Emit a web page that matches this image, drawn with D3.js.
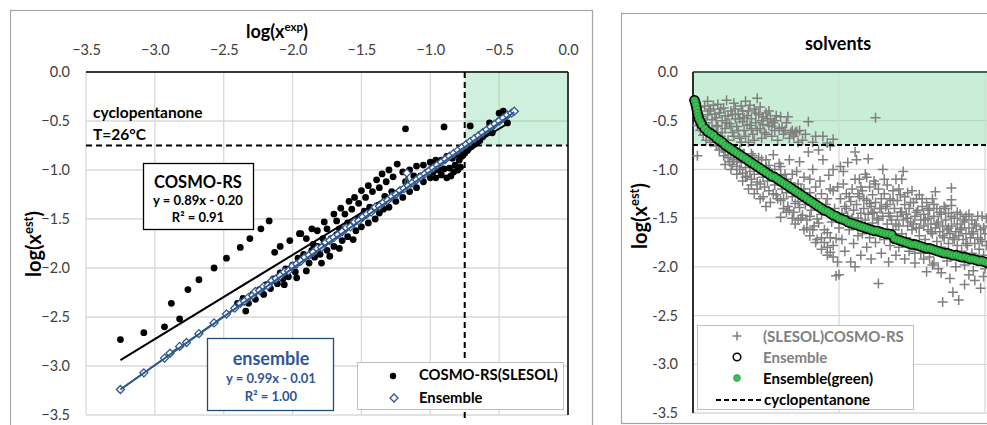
<!DOCTYPE html>
<html><head><meta charset="utf-8">
<script src="https://cdn.jsdelivr.net/npm/d3@7"></script>
<style>
html,body{margin:0;padding:0;background:#fff;}
svg{display:block;font-family:Lato,"Open Sans",sans-serif;}
</style></head>
<body>
<svg id="c" width="987" height="425"></svg>
<script>
// ---------- DATA ----------
const leftTicks = [-3.5,-3.0,-2.5,-2.0,-1.5,-1.0,-0.5,0.0];
const yTicks = [-3.5,-3.0,-2.5,-2.0,-1.5,-1.0,-0.5,0.0];
const threshold = -0.75;

// COSMO-RS(SLESOL): [log x_exp, log x_est]
const cosmoPts = [
[-3.25,-2.73],[-3.08,-2.66],[-2.93,-2.60],[-2.82,-2.52],[-2.88,-2.36],[-2.76,-2.22],[-2.68,-2.12],[-2.57,-2.00],[-2.48,-1.90],[-2.38,-1.79],[-2.31,-1.70],[-2.23,-1.60],[-2.17,-1.52],[-2.13,-1.84],[-2.09,-1.78],[-2.02,-1.72],[-1.95,-1.65],[-2.34,-2.44],
[-2.40,-2.36],[-2.36,-2.31],[-2.32,-2.36],[-2.29,-2.27],[-2.27,-2.32],[-2.24,-2.22],[-2.21,-2.27],[-2.19,-2.17],[-2.16,-2.21],[-2.14,-2.11],[-2.11,-2.16],[-2.09,-2.05],[-2.07,-2.11],[-2.05,-2.01],[-2.03,-2.09],[-2.00,-1.97],[-1.98,-2.04],[-2.06,-2.17],[-1.97,-2.10],[-1.90,-2.03],[-1.79,-1.95],[-1.73,-1.88],[-1.66,-1.80],[-1.56,-1.71],[-1.37,-1.44],
[-1.94,-1.92],[-1.92,-1.86],[-1.88,-1.95],[-1.86,-1.82],[-1.84,-1.89],[-1.82,-1.78],[-1.80,-1.86],[-1.77,-1.74],[-1.75,-1.82],[-1.72,-1.70],[-1.70,-1.78],[-1.68,-1.66],[-1.64,-1.72],[-1.62,-1.60],[-1.60,-1.68],[-1.58,-1.56],[-1.54,-1.62],[-1.52,-1.50],[-1.50,-1.58],[-1.47,-1.46],[-1.45,-1.54],[-1.42,-1.40],[-1.40,-1.50],[-1.38,-1.36],[-1.34,-1.40],[-1.32,-1.30],[-1.30,-1.38],[-1.27,-1.26],[-1.25,-1.32],[-1.22,-1.21],[-1.20,-1.28],[-1.17,-1.16],[-1.15,-1.22],[-1.12,-1.12],[-1.10,-1.18],[-1.07,-1.06],[-1.05,-1.12],[-1.02,-1.02],[-1.00,-1.08],
[-1.96,-1.90],[-1.78,-1.70],[-1.60,-1.54],[-1.44,-1.38],[-1.28,-1.22],[-1.12,-1.06],[-0.98,-0.96],[-1.85,-1.76],[-1.66,-1.60],[-1.48,-1.42],[-1.33,-1.27],[-1.18,-1.12],
[-1.94,-1.65],[-1.90,-1.70],[-1.86,-1.60],[-1.82,-1.62],[-1.77,-1.53],[-1.75,-1.60],[-1.70,-1.45],[-1.68,-1.52],[-1.65,-1.39],[-1.62,-1.45],[-1.59,-1.32],[-1.57,-1.40],[-1.55,-1.28],[-1.52,-1.34],[-1.50,-1.21],[-1.47,-1.28],[-1.45,-1.16],[-1.42,-1.22],[-1.39,-1.10],[-1.37,-1.18],[-1.35,-1.04],[-1.32,-1.12],[-1.30,-1.00],[-1.27,-1.07],[-1.24,-0.94],[-1.20,-1.02],[-1.15,-1.00],[-1.10,-0.96],[-1.05,-0.95],[-1.00,-0.92],[-0.96,-0.90],[-1.18,-0.58],[-0.90,-0.56],[-0.71,-0.55],
[-0.98,-1.02],[-0.96,-1.08],[-0.94,-1.00],[-0.92,-1.05],[-0.90,-0.99],[-0.88,-1.08],[-0.86,-0.98],[-0.85,-1.06],[-0.83,-1.02],[-0.82,-0.95],[-0.80,-1.00],[-0.79,-0.90],[-0.78,-0.97],[-0.77,-0.86],[-0.75,-0.83],[-0.73,-0.80],[-0.72,-0.78],[-0.70,-0.76],[-0.68,-0.74],[-0.66,-0.72],[-0.64,-0.70],[-0.62,-0.66],[-0.60,-0.62],[-0.58,-0.60],[-0.55,-0.55],[-0.50,-0.50],[-0.45,-0.45],[-0.50,-0.42],[-0.44,-0.52],[-0.57,-0.52],[-0.47,-0.40],[-0.55,-0.62],[-0.84,-0.88],[-0.81,-0.84],[-0.76,-0.78],[-0.95,-0.94],[-0.92,-0.90],[-0.88,-0.86]
];

// Ensemble: [log x_exp, log x_est]
const ensemblePts = [
[-3.25,-3.24],[-3.08,-3.07],[-2.93,-2.92],[-2.89,-2.87],[-2.82,-2.80],[-2.77,-2.76],[-2.68,-2.67],[-2.57,-2.56],[-2.48,-2.47],[-2.42,-2.41],[-2.38,-2.36],[-2.35,-2.34],[-2.32,-2.30],[-2.29,-2.28],[-2.27,-2.24],[-2.24,-2.23],[-2.21,-2.19],[-2.18,-2.18],[-2.15,-2.13],[-2.12,-2.11],[-2.09,-2.08],[-2.06,-2.04],[-2.03,-2.03],[-2.00,-1.98],[-1.97,-1.96],[-1.94,-1.93],[-1.91,-1.89],[-1.88,-1.87],[-1.85,-1.84],[-1.82,-1.80],[-1.79,-1.79],[-1.76,-1.74],[-1.73,-1.72],[-1.70,-1.69],[-1.67,-1.66],[-1.64,-1.63],[-1.61,-1.59],[-1.58,-1.58],[-1.55,-1.53],[-1.52,-1.52],[-1.49,-1.48],[-1.46,-1.45],[-1.43,-1.43],[-1.40,-1.38],[-1.37,-1.37],[-1.34,-1.33],[-1.31,-1.31],[-1.28,-1.27],[-1.25,-1.25],[-1.22,-1.21],[-1.19,-1.19],[-1.17,-1.03],[-1.16,-1.16],[-1.13,-1.13],[-1.10,-1.10],[-1.07,-1.07],[-1.04,-1.04],[-1.01,-1.01],[-0.98,-0.98],[-0.95,-0.95],[-0.92,-0.92],[-0.89,-0.89],[-0.86,-0.86],[-0.83,-0.83],[-0.80,-0.80],[-0.77,-0.77],[-0.74,-0.74],[-0.71,-0.71],[-0.68,-0.68],[-0.65,-0.65],[-0.62,-0.62],[-0.59,-0.59],[-0.56,-0.56],[-0.53,-0.53],[-0.50,-0.50],[-0.47,-0.47],[-0.44,-0.44],[-0.41,-0.42],[-0.39,-0.40]
];

const cosmoFit = [[-3.25,-2.94],[-0.42,-0.51]];
const ensembleFit = [[-3.25,-3.24],[-0.39,-0.41]];

// Right panel: solvents (index, log x_est)
const solventGridX = [0,100,200,300];
const ensembleCurve = [
[1,-0.29],[1.5,-0.31],[2,-0.34],[2.5,-0.38],[3,-0.42],[3.5,-0.45],[4,-0.48],[5,-0.51],[6,-0.54],[8,-0.58],[10,-0.61],[12,-0.63],[14,-0.65],[16,-0.68],[18,-0.70],[20,-0.72],[22,-0.75],[24,-0.77],[26,-0.79],[28,-0.81],[30,-0.83],[32,-0.85],[34,-0.87],[36,-0.89],[38,-0.91],[40,-0.93],[42,-0.95],[44,-0.97],[46,-0.99],[48,-1.01],[50,-1.03],[52,-1.05],[54,-1.07],[56,-1.08],[58,-1.10],[60,-1.12],[62,-1.14],[64,-1.16],[66,-1.18],[68,-1.20],[70,-1.22],[72,-1.24],[74,-1.26],[76,-1.28],[78,-1.30],[80,-1.32],[82,-1.34],[84,-1.36],[86,-1.38],[88,-1.40],[90,-1.42],[92,-1.43],[94,-1.45],[96,-1.47],[98,-1.48],[100,-1.50],[102,-1.51],[104,-1.52],[106,-1.54],[108,-1.55],[110,-1.56],[112,-1.57],[114,-1.58],[116,-1.59],[118,-1.60],[120,-1.61],[122,-1.62],[124,-1.63],[126,-1.63],[128,-1.64],[130,-1.65],[132,-1.66],[134,-1.66],[136,-1.67],[138,-1.71],[140,-1.72],[142,-1.73],[144,-1.74],[146,-1.75],[148,-1.76],[150,-1.77],[152,-1.77],[154,-1.78],[156,-1.79],[158,-1.80],[160,-1.81],[162,-1.81],[164,-1.82],[166,-1.83],[168,-1.84],[170,-1.85],[172,-1.86],[174,-1.86],[176,-1.87],[178,-1.88],[180,-1.88],[182,-1.89],[184,-1.90],[186,-1.90],[188,-1.91],[190,-1.92],[192,-1.92],[194,-1.93],[196,-1.94],[198,-1.94],[200,-1.95],[202,-1.96]
];

const slesolPts = [
[4,-0.40],[6,-0.46],[8,-0.35],[9,-0.52],[10,-0.44],[11,-0.58],[12,-0.38],[13,-0.49],[14,-0.62],[15,-0.43],[16,-0.55],[17,-0.33],[18,-0.42],[19,-0.66],[20,-0.50],[21,-0.37],[22,-0.58],[23,-0.29],[24,-0.45],[25,-0.53],[26,-0.40],[27,-0.62],[28,-0.32],[29,-0.48],[30,-0.56],[31,-0.43],[32,-0.68],[33,-0.35],[34,-0.51],[35,-0.60],[36,-0.30],[37,-0.45],[38,-0.40],[39,-0.55],[40,-0.48],[41,-0.64],[42,-0.38],[43,-0.52],[44,-0.27],[45,-0.44],[46,-0.58],[47,-0.50],[48,-0.46],[49,-0.62],[50,-0.42],[52,-0.55],[53,-0.48],[54,-0.66],[55,-0.52],[56,-0.60],[57,-0.45],[58,-0.70],[60,-0.46],[61,-0.57],[62,-0.64],[64,-0.52],[65,-0.46],[66,-0.68],[68,-0.60],[70,-0.62],[71,-0.61],[72,-0.72],[73,-0.60],[79,-0.51],[84,-0.66],[89,-0.66],[96,-0.69],[125,-0.47],
[5,-0.36],[7,-0.48],[10,-0.30],[11,-0.40],[13,-0.60],[14,-0.34],[16,-0.47],[17,-0.56],[19,-0.38],[20,-0.62],[22,-0.45],[23,-0.52],[24,-0.70],[26,-0.56],[27,-0.44],[28,-0.66],[29,-0.38],[31,-0.60],[32,-0.48],[33,-0.72],[34,-0.40],[35,-0.47],[36,-0.66],[37,-0.54],[38,-0.72],[39,-0.34],[40,-0.58],[42,-0.70],[43,-0.42],[44,-0.60],[46,-0.36],[47,-0.68],[48,-0.54],[50,-0.64],[51,-0.48],[52,-0.40],[54,-0.56],[56,-0.50],[59,-0.58],[63,-0.60],[67,-0.62],[69,-0.66],[75,-0.70],[77,-0.64],[82,-0.72],[92,-0.73],
[3,-0.55],[5,-0.60],[7,-0.65],[9,-0.70],[12,-0.72],[15,-0.68],[18,-0.74],[8,-0.58],[3,-0.86],
[16,-0.76],[18,-0.80],[20,-0.78],[21,-0.86],[22,-0.82],[24,-0.88],[25,-0.92],[26,-0.85],[27,-0.95],[28,-0.90],[29,-0.80],[30,-0.97],[31,-0.88],[32,-1.00],[33,-0.93],[34,-1.04],[35,-0.84],[36,-0.98],[37,-1.07],[38,-0.92],[39,-1.02],[40,-1.10],[41,-0.86],[42,-1.05],[43,-0.96],[44,-1.13],[45,-1.00],[46,-1.15],[47,-0.90],[48,-1.08],[49,-1.18],[50,-0.98],[51,-1.12],[52,-1.22],[53,-1.34],[54,-1.04],[55,-0.85],[56,-1.16],[57,-1.26],[58,-1.10],[59,-0.94],[60,-0.97],[60,-1.49],[61,-1.20],[62,-1.30],[63,-1.05],[64,-1.24],[65,-1.38],[66,-0.90],[67,-1.14],[68,-1.28],[69,-1.44],[70,-1.56],[71,-1.02],[72,-1.33],[73,-0.92],[73,-1.39],[74,-1.20],[75,-1.47],[76,-1.08],[77,-1.36],[78,-1.52],[79,-0.82],[80,-1.24],[81,-1.42],[82,-1.00],[83,-1.58],[84,-1.30],[85,-1.51],[86,-0.80],[87,-1.12],[88,-1.46],[89,-0.90],[90,-1.62],[91,-1.36],[92,-1.65],[93,-1.06],[94,-0.76],[94,-1.20],[95,-1.54],[96,-1.00],[96,-1.78],[97,-1.40],[98,-1.71],[98,-2.09],[99,-1.18],[100,-1.60],[100,-2.08],[101,-0.97],
[22,-0.95],[26,-1.00],[30,-1.05],[34,-1.12],[38,-1.20],[42,-1.25],[46,-1.30],[50,-1.38],[36,-1.08],[44,-1.20],[55,-1.25],[58,-1.30],[62,-1.40],[66,-1.42],[70,-1.35],[74,-1.50],[78,-1.60],[82,-1.62],[86,-1.55],[88,-1.70],[90,-1.75],[92,-1.80],[94,-1.85],[96,-1.90],[99,-1.95],[85,-1.72],[80,-1.48],
[32,-0.80],[40,-0.84],[45,-0.88],[50,-0.90],[52,-0.96],[56,-1.00],[60,-1.06],[64,-1.10],[68,-1.05],[72,-1.15],[76,-1.20],[80,-1.10],[84,-1.18],[88,-1.25],[92,-1.30],[96,-1.22],[60,-1.32],[64,-1.44],[68,-1.50],[72,-1.52],[76,-1.62],[80,-1.68],[84,-1.75],[88,-1.82],[92,-1.88],[94,-1.70],[48,-1.28],[40,-1.16],[30,-0.92],[26,-0.80],
[101,-1.30],[102,-1.45],[102,-1.72],[103,-1.15],[104,-1.38],[104,-1.84],[105,-1.25],[106,-0.93],[106,-1.48],[107,-1.62],[108,-1.33],[108,-1.95],[109,-1.20],[110,-1.42],[110,-1.76],[111,-0.82],[111,-2.00],[112,-0.90],[112,-1.36],[113,-1.50],[113,-1.68],[114,-1.10],[114,-1.28],[115,-1.45],[115,-1.88],[116,-1.22],[116,-1.66],[117,-1.40],[118,-1.05],[118,-1.52],[119,-1.32],[119,-1.80],[120,-0.89],[120,-1.46],[121,-1.18],[121,-1.70],[122,-1.38],[122,-1.92],[123,-1.26],[123,-1.55],[124,-1.12],[124,-1.44],[125,-1.34],[125,-1.75],[126,-1.50],[127,-2.17],[127,-1.20],[128,-1.40],[128,-1.68],[129,-1.30],[129,-1.86],[130,-1.00],[130,-1.48],[131,-1.25],[131,-1.72],[132,-1.38],[133,-1.56],[133,-1.16],[134,-1.45],[134,-1.95],[135,-1.30],[135,-1.78],[136,-1.52],[137,-1.22],[137,-1.62],[138,-1.40],[139,-1.88],[139,-1.10],[140,-1.48],[140,-1.32],[141,-1.58],[141,-1.80],[142,-1.26],[142,-1.44],[143,-1.10],[143,-1.66],[144,-1.02],[144,-1.52],[145,-1.36],[145,-1.92],[146,-1.46],[146,-1.70],[147,-1.24],[147,-1.58],[148,-1.40],[148,-1.84],[149,-1.54],[150,-1.22],[150,-1.62],[151,-1.34],[151,-1.76],[152,-1.48],[152,-1.96],[153,-1.30],[153,-1.60],[154,-1.42],[155,-1.26],[155,-1.68],[156,-1.52],[156,-1.86],[157,-1.38],[158,-1.58],[158,-1.46],[159,-1.72],[160,-2.05],[160,-1.34],[161,-1.62],[161,-1.50],[162,-1.90],[162,-1.42],[163,-1.56],[164,-1.66],[164,-1.30],[165,-1.48],[165,-1.96],[166,-1.23],[166,-1.60],[167,-1.74],[167,-1.40],[168,-1.54],[168,-2.02],[169,-1.64],[170,-1.46],[170,-1.80],[171,-2.36],[171,-1.58],[172,-1.38],[172,-1.70],[173,-1.52],[174,-1.62],[174,-1.94],[175,-1.45],[175,-1.76],[176,-1.66],[177,-1.19],[177,-1.31],[177,-1.37],[177,-1.58],[178,-2.26],[178,-1.70],[179,-1.50],[180,-1.64],[180,-2.00],[181,-1.56],[181,-1.78],[182,-2.34],[182,-1.68],[183,-1.46],[184,-1.60],[184,-1.84],[185,-1.72],[186,-1.54],[186,-1.98],[187,-1.48],[187,-1.66],[188,-1.78],[189,-1.60],[189,-2.08],[190,-1.70],[191,-1.52],[191,-1.86],[192,-1.64],[193,-1.76],[193,-2.14],[194,-1.58],[195,-1.70],[195,-1.92],[196,-1.82],[197,-2.22],[197,-1.62],[198,-1.48],[198,-1.74],[199,-1.88],[200,-1.66],[200,-2.02],[201,-1.78],[202,-1.58],
[103,-1.02],[105,-1.40],[107,-1.28],[109,-1.50],[111,-1.10],[113,-1.25],[115,-1.18],[117,-1.30],[119,-1.08],[121,-1.35],[123,-1.45],[125,-1.15],[127,-1.52],[129,-1.40],[131,-1.10],[133,-1.36],[135,-1.48],[137,-1.32],[139,-1.56],[141,-1.20],[143,-1.44],[145,-1.28],[147,-1.50],[149,-1.34],[151,-1.56],[153,-1.44],[155,-1.60],[157,-1.30],[159,-1.52],[161,-1.40],[163,-1.64],[165,-1.36],[167,-1.56],[169,-1.44],[171,-1.68],[173,-1.40],[175,-1.60],[177,-1.48],[179,-1.72],[181,-1.44],[183,-1.62],[185,-1.52],[187,-1.76],[189,-1.46],[191,-1.66],[193,-1.56],[195,-1.48],[197,-1.72],[199,-1.60],[201,-1.50],[152,-1.86],[158,-1.92],[164,-1.98],[170,-2.06],[176,-2.12],[186,-2.18],[192,-2.04],[199,-2.10]
];

// ---------- DRAW ----------
const svg = d3.select("#c");
const GRID = "#d9d9d9", GREEN_BG = "#c9eed8", BLUE = "#2f5597";
const fmtL = d3.format(".1f");
const fmtR = d => d3.format(".1f")(d).replace("\u2212","-");
const diamond = s => `M0,${-s}L${s},0L0,${s}L${-s},0Z`;
const plus = s => `M${-s},0H${s}M0,${-s}V${s}`;

svg.append("rect").attr("x",10.5).attr("y",10.5).attr("width",582).attr("height",430)
  .attr("fill","#fff").attr("stroke","#a6a6a6").attr("stroke-width",1.2);
svg.append("rect").attr("x",621.5).attr("y",13.5).attr("width",400).attr("height",410)
  .attr("fill","#fff").attr("stroke","#a6a6a6").attr("stroke-width",1.2);

// ===== LEFT PANEL =====
const xL = d3.scaleLinear().domain([-3.5,0]).range([86,568]);
const yL = d3.scaleLinear().domain([-3.5,0]).range([415,72]);
const gL = svg.append("g");

gL.selectAll(".vg").data(leftTicks).join("line")
  .attr("x1",d=>xL(d)).attr("x2",d=>xL(d)).attr("y1",yL(0)).attr("y2",yL(-3.5))
  .attr("stroke",GRID).attr("stroke-width",1.3);
gL.selectAll(".hg").data(yTicks).join("line")
  .attr("y1",d=>yL(d)).attr("y2",d=>yL(d)).attr("x1",xL(-3.5)).attr("x2",xL(0))
  .attr("stroke",GRID).attr("stroke-width",1.3);

gL.append("rect").attr("x",xL(threshold)).attr("y",yL(0))
  .attr("width",xL(0)-xL(threshold)).attr("height",yL(threshold)-yL(0))
  .attr("fill",GREEN_BG).attr("opacity",0.9);
gL.selectAll(".vg2").data([-0.5]).join("line")
  .attr("x1",d=>xL(d)).attr("x2",d=>xL(d)).attr("y1",yL(0)).attr("y2",yL(threshold))
  .attr("stroke","#b5d8c2").attr("stroke-width",1.3);
gL.selectAll(".hg2").data([-0.5]).join("line")
  .attr("y1",d=>yL(d)).attr("y2",d=>yL(d)).attr("x1",xL(threshold)).attr("x2",xL(0))
  .attr("stroke","#b5d8c2").attr("stroke-width",1.3);

const axTop = d3.axisTop(xL).tickValues(leftTicks).tickFormat(fmtL).tickSize(0).tickPadding(17);
gL.append("g").attr("transform",`translate(0,${yL(0)})`).call(axTop)
  .call(g=>g.select(".domain").remove())
  .selectAll("text").attr("font-size",14.5).attr("fill","#404040").attr("font-family","Lato,sans-serif");
const axLeft = d3.axisLeft(yL).tickValues(yTicks).tickFormat(fmtL).tickSize(0).tickPadding(16);
gL.append("g").attr("transform",`translate(${xL(-3.5)},0)`).call(axLeft)
  .call(g=>g.select(".domain").remove())
  .selectAll("text").attr("font-size",14.5).attr("fill","#404040").attr("font-family","Lato,sans-serif");

gL.append("line").attr("x1",xL(-3.5)).attr("x2",xL(0)).attr("y1",yL(0)).attr("y2",yL(0)).attr("stroke","#000").attr("stroke-width",1.5);
gL.append("line").attr("x1",xL(0)).attr("x2",xL(0)).attr("y1",yL(0)).attr("y2",yL(-3.5)).attr("stroke","#000").attr("stroke-width",1.5);

gL.append("line").attr("x1",xL(-3.5)).attr("x2",xL(0)).attr("y1",yL(threshold)).attr("y2",yL(threshold))
  .attr("stroke","#000").attr("stroke-width",2).attr("stroke-dasharray","6,4");
gL.append("line").attr("x1",xL(threshold)).attr("x2",xL(threshold)).attr("y1",yL(0)).attr("y2",yL(-3.5)+6)
  .attr("stroke","#000").attr("stroke-width",2).attr("stroke-dasharray","6,4");

gL.append("g").selectAll("circle").data(cosmoPts).join("circle")
  .attr("cx",d=>xL(d[0])).attr("cy",d=>yL(d[1])).attr("r",3.4).attr("fill","#000");
const lineL = d3.line().x(d=>xL(d[0])).y(d=>yL(d[1]));
gL.append("path").attr("d",lineL(cosmoFit)).attr("stroke","#000").attr("stroke-width",2).attr("fill","none");
gL.append("path").attr("d",lineL(ensemblePts)).attr("stroke","#2e5a86").attr("stroke-width",1.6).attr("fill","none");
gL.append("g").selectAll("path").data(ensemblePts).join("path")
  .attr("d",diamond(4)).attr("transform",d=>`translate(${xL(d[0])},${yL(d[1])})`)
  .attr("fill","#fff").attr("stroke",BLUE).attr("stroke-width",1.3);
gL.append("path").attr("d",lineL(ensembleFit)).attr("stroke","#2e5a86").attr("stroke-width",2).attr("fill","none");

const tL = gL.append("text").attr("x",277).attr("y",38).attr("text-anchor","middle")
  .attr("font-size",18).attr("font-weight","bold").attr("fill","#000");
tL.append("tspan").text("log(x");
tL.append("tspan").text("exp").attr("font-size",11.5).attr("dy",-7);
tL.append("tspan").text(")").attr("dy",7);

const yt = gL.append("text").attr("transform","translate(41,244) rotate(-90)").attr("text-anchor","middle")
  .attr("font-size",20).attr("font-weight","bold").attr("fill","#000");
yt.append("tspan").text("log(x");
yt.append("tspan").text("est").attr("font-size",13).attr("dy",-8);
yt.append("tspan").text(")").attr("dy",8);

gL.append("text").attr("x",93).attr("y",118).text("cyclopentanone").attr("font-size",15.5).attr("font-weight","bold");
gL.append("text").attr("x",93).attr("y",140).text("T=26°C").attr("font-size",15.5).attr("font-weight","bold");

gL.append("rect").attr("x",143.5).attr("y",163.5).attr("width",110).attr("height",66)
  .attr("fill","#fff").attr("stroke","#000").attr("stroke-width",1.3);
gL.append("text").attr("x",198).attr("y",188).attr("text-anchor","middle").text("COSMO-RS").attr("font-size",16.5).attr("font-weight","bold");
gL.append("text").attr("x",198).attr("y",205).attr("text-anchor","middle").text("y = 0.89x - 0.20").attr("font-size",13).attr("font-weight","bold");
gL.append("text").attr("x",198).attr("y",222).attr("text-anchor","middle").text("R² = 0.91").attr("font-size",13).attr("font-weight","bold");

gL.append("rect").attr("x",207.5).attr("y",338.5).attr("width",126).attr("height",72)
  .attr("fill","#fff").attr("stroke","#1f4e79").attr("stroke-width",1.3);
gL.append("text").attr("x",271).attr("y",365).attr("text-anchor","middle").text("ensemble").attr("font-size",18).attr("font-weight","bold").attr("fill","#2f5597");
gL.append("text").attr("x",271).attr("y",383).attr("text-anchor","middle").text("y = 0.99x - 0.01").attr("font-size",13).attr("font-weight","bold").attr("fill","#2f5597");
gL.append("text").attr("x",271).attr("y",401).attr("text-anchor","middle").text("R² = 1.00").attr("font-size",13).attr("font-weight","bold").attr("fill","#2f5597");

gL.append("rect").attr("x",357.5).attr("y",362.5).attr("width",206).attr("height",47)
  .attr("fill","#fff").attr("stroke","#bfbfbf").attr("stroke-width",1);
gL.append("circle").attr("cx",393).attr("cy",376).attr("r",3.2).attr("fill","#000");
gL.append("text").attr("x",419).attr("y",380).text("COSMO-RS(SLESOL)").attr("font-size",14.8).attr("font-weight","bold");
gL.append("path").attr("d",diamond(4)).attr("transform","translate(394,398)").attr("fill","#fff").attr("stroke",BLUE).attr("stroke-width",1.3);
gL.append("text").attr("x",419).attr("y",403).text("Ensemble").attr("font-size",14.8).attr("font-weight","bold");

// ===== RIGHT PANEL =====
const xR = d3.scaleLinear().domain([0,300]).range([693,1131]);
const yR = d3.scaleLinear().domain([-3.5,0]).range([413,72]);
const gR = svg.append("g");

gR.append("rect").attr("x",xR(0)).attr("y",yR(0)).attr("width",xR(300)-xR(0)).attr("height",yR(threshold)-yR(0))
  .attr("fill",GREEN_BG);
gR.selectAll(".hg").data(yTicks).join("line")
  .attr("y1",d=>yR(d)).attr("y2",d=>yR(d)).attr("x1",xR(0)).attr("x2",xR(300))
  .attr("stroke",d=> d>threshold ? "#b5d8c2" : GRID).attr("stroke-width",1.3);
gR.selectAll(".vg").data(solventGridX).join("line")
  .attr("x1",d=>xR(d)).attr("x2",d=>xR(d)).attr("y1",yR(0)).attr("y2",yR(-3.5))
  .attr("stroke",GRID).attr("stroke-width",1.3);

const axR = d3.axisLeft(yR).tickValues(yTicks).tickFormat(fmtR).tickSize(0).tickPadding(15);
gR.append("g").attr("transform",`translate(${xR(0)},0)`).call(axR)
  .call(g=>g.select(".domain").remove())
  .selectAll("text").attr("font-size",14.5).attr("fill","#404040").attr("font-family","Lato,sans-serif");

gR.append("line").attr("x1",xR(0)).attr("x2",xR(0)).attr("y1",yR(0)).attr("y2",yR(-3.5)).attr("stroke","#000").attr("stroke-width",1.6);
gR.append("line").attr("x1",xR(0)).attr("x2",xR(300)).attr("y1",yR(0)).attr("y2",yR(0)).attr("stroke","#1a3d2a").attr("stroke-width",1.3);

gR.append("g").selectAll("path").data(slesolPts).join("path")
  .attr("d",plus(5)).attr("transform",d=>`translate(${xR(d[0])},${yR(d[1])})`)
  .attr("stroke","#7f7f7f").attr("stroke-width",1.5).attr("fill","none");

gR.append("line").attr("x1",xR(0)).attr("x2",xR(300)).attr("y1",yR(threshold)).attr("y2",yR(threshold))
  .attr("stroke","#000").attr("stroke-width",2).attr("stroke-dasharray","5,3");

gR.append("g").selectAll("circle").data(ensembleCurve).join("circle")
  .attr("cx",d=>xR(d[0])).attr("cy",d=>yR(d[1])).attr("r",4.6)
  .attr("fill","#0b2a12").attr("stroke","#000").attr("stroke-width",1.5);
gR.append("g").selectAll("circle").data(ensembleCurve).join("circle")
  .attr("cx",d=>xR(d[0])).attr("cy",d=>yR(d[1])).attr("r",3.4)
  .attr("fill","#3fbf55").attr("stroke","#1f9a3a").attr("stroke-width",0.8);

gR.append("text").attr("x",838).attr("y",50).attr("text-anchor","middle").text("solvents")
  .attr("font-size",18).attr("font-weight","bold");
const yt2 = gR.append("text").attr("transform","translate(647,216) rotate(-90)").attr("text-anchor","middle")
  .attr("font-size",20).attr("font-weight","bold").attr("fill","#000");
yt2.append("tspan").text("log(x");
yt2.append("tspan").text("est").attr("font-size",13).attr("dy",-8);
yt2.append("tspan").text(")").attr("dy",8);

gR.append("rect").attr("x",697.5).attr("y",325.5).attr("width",216).attr("height",84)
  .attr("fill","#fff").attr("stroke","#bfbfbf").attr("stroke-width",1);
gR.append("path").attr("d",plus(4.5)).attr("transform","translate(737,336)").attr("stroke","#7f7f7f").attr("stroke-width",1.5);
gR.append("text").attr("x",763).attr("y",342).text("(SLESOL)COSMO-RS").attr("font-size",15).attr("font-weight","bold").attr("fill","#808080");
gR.append("circle").attr("cx",737).attr("cy",357).attr("r",3.8).attr("fill","none").attr("stroke","#000").attr("stroke-width",1.5);
gR.append("text").attr("x",763).attr("y",363).text("Ensemble").attr("font-size",15).attr("font-weight","bold").attr("fill","#808080");
gR.append("circle").attr("cx",737).attr("cy",378).attr("r",3.4).attr("fill","#3fbf55").attr("stroke","#1f9a3a").attr("stroke-width",0.8);
gR.append("text").attr("x",763).attr("y",384).text("Ensemble(green)").attr("font-size",15).attr("font-weight","bold").attr("fill","#000");
gR.append("line").attr("x1",716).attr("x2",761).attr("y1",400).attr("y2",400).attr("stroke","#000").attr("stroke-width",2).attr("stroke-dasharray","5,3");
gR.append("text").attr("x",764).attr("y",405).text("cyclopentanone").attr("font-size",15).attr("font-weight","bold").attr("fill","#000");
</script>
</body></html>
